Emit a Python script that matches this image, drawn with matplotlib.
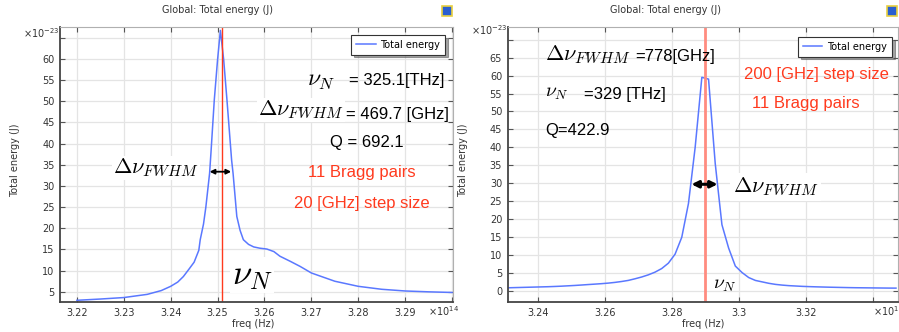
import matplotlib
matplotlib.use("Agg")
import matplotlib.pyplot as plt
from matplotlib.patches import Rectangle

plt.rcParams["font.family"] = ["DejaVu Sans"]
plt.rcParams["mathtext.fontset"] = "cm"

# frequency in units of 1e14 Hz, energy in units of 1e-23 J
# 20 GHz sweep
freq_a = [3.220, 3.225, 3.230, 3.235, 3.238, 3.240, 3.2415, 3.2427, 3.244, 3.245,
          3.246, 3.2463, 3.247, 3.2475, 3.248, 3.2483, 3.2486, 3.2493, 3.2500, 3.2506,
          3.2513, 3.2520, 3.2530, 3.2533, 3.2541, 3.2548, 3.2555, 3.2566, 3.2577, 3.259,
          3.2605, 3.262, 3.2633, 3.2655, 3.2676, 3.270, 3.275, 3.280, 3.285, 3.290,
          3.295, 3.300]
energy_a = [3.0, 3.3, 3.65, 4.4, 5.3, 6.3, 7.3, 8.6, 10.5, 12.0,
            14.8, 17.3, 21.0, 25.0, 30.0, 33.0, 38.0, 50.3, 59.8, 66.7,
            59.8, 50.3, 36.0, 33.0, 22.8, 19.5, 17.3, 16.2, 15.6, 15.3,
            15.1, 14.5, 13.4, 12.2, 11.0, 9.45, 7.5, 6.3, 5.6, 5.2,
            5.0, 4.85]

# 200 GHz sweep
freq_b = [3.231, 3.233, 3.235, 3.237, 3.239, 3.241, 3.243, 3.245, 3.247, 3.249,
          3.251, 3.253, 3.255, 3.257, 3.259, 3.261, 3.263, 3.265, 3.267, 3.269,
          3.271, 3.273, 3.275, 3.277, 3.279, 3.281, 3.283, 3.285, 3.287, 3.289,
          3.291, 3.293, 3.295, 3.297, 3.299, 3.301, 3.303, 3.305, 3.307, 3.309,
          3.311, 3.313, 3.315, 3.317, 3.319, 3.321, 3.323, 3.325, 3.327, 3.329,
          3.331, 3.333, 3.335, 3.337, 3.339, 3.341, 3.343, 3.345, 3.347]
energy_b = [0.95, 1.00, 1.05, 1.10, 1.15, 1.20, 1.25, 1.32, 1.40, 1.50,
            1.60, 1.72, 1.85, 1.97, 2.10, 2.25, 2.45, 2.70, 3.00, 3.45,
            3.95, 4.55, 5.30, 6.30, 7.80, 10.3, 15.0, 24.4, 40.0, 59.5,
            59.0, 35.5, 18.5, 12.0, 7.0, 5.2, 3.8, 3.0, 2.6, 2.2,
            1.9, 1.7, 1.55, 1.45, 1.35, 1.28, 1.22, 1.17, 1.12, 1.08,
            1.04, 1.00, 0.97, 0.95, 0.93, 0.91, 0.89, 0.87, 0.86]

# resonance values written on each panel
nu_a, fwhm_a, q_a = 3.251, 469.7, 692.1
nu_b, fwhm_b, q_b = 3.29, 778, 422.9
half_a = (3.2483, 3.2529)
half_b = (3.2859, 3.2937)

xticks_a = [3.22, 3.23, 3.24, 3.25, 3.26, 3.27, 3.28, 3.29]
yticks_a = [5, 10, 15, 20, 25, 30, 35, 40, 45, 50, 55, 60]
xticks_b = [3.24, 3.26, 3.28, 3.30, 3.32]
yticks_b = [0, 5, 10, 15, 20, 25, 30, 35, 40, 45, 50, 55, 60, 65]

W, H = 899, 332
BLUE = "#5a78ff"
RED = "#ff3a1e"
fig = plt.figure(figsize=(W / 100, H / 100), dpi=100)


def px_axes(left, top, right, bottom):
    return fig.add_axes([left / W, 1 - bottom / H, (right - left) / W, (bottom - top) / H])


def ptext(x, y, s, **kw):
    kw.setdefault("va", "center")
    return fig.text(x / W, 1 - y / H, s, **kw)


def comsol_axes(ax, xlim, ylim, xticks, xlabels, yticks, extra_x, extra_y, leg_anchor):
    ax.set_xlim(*xlim)
    ax.set_ylim(*ylim)
    ax.set_xticks(xticks)
    ax.set_xticklabels(xlabels)
    ax.set_yticks(yticks)
    ax.set_yticklabels([str(t) for t in yticks])
    # unlabelled ticks at the far ends
    ax.set_xticks(extra_x, minor=True)
    ax.set_yticks(extra_y, minor=True)
    ax.grid(True, which="both", color="#e4e4e4", lw=0.9)
    ax.set_axisbelow(True)
    ax.tick_params(which="both", direction="in", length=3.5, width=0.8, color="#555555",
                   labelsize=7, labelcolor="#333333", top=True, right=True, pad=4)
    for side in ("left", "bottom"):
        ax.spines[side].set_color("#444444")
        ax.spines[side].set_linewidth(1.3)
    for side in ("top", "right"):
        ax.spines[side].set_color("#b0b0b0")
        ax.spines[side].set_linewidth(0.8)
    leg = ax.legend(loc="upper right", bbox_to_anchor=leg_anchor, fontsize=7,
                    frameon=True, fancybox=False, shadow=True, handlelength=2.0,
                    borderpad=0.5, handletextpad=0.5, borderaxespad=0)
    leg.get_frame().set_edgecolor("#333333")
    leg.get_frame().set_linewidth(0.8)


# 20 GHz step panel
ax1 = px_axes(60, 27, 453, 302)
ax1.plot(freq_a, energy_a, color=BLUE, lw=1.1, label="Total energy")
ax1.axvline(nu_a, color=RED, lw=1.0)
comsol_axes(ax1, (3.2164, 3.3002), (2.6, 67.5),
            xticks_a, [f"{t:.2f}" for t in xticks_a], yticks_a,
            [3.30], [65], (0.98, 0.971))
ax1.annotate("", xy=(half_a[0], max(energy_a) / 2), xytext=(half_a[1], max(energy_a) / 2),
             arrowprops=dict(arrowstyle="<|-|>", color="black", lw=1.3,
                             mutation_scale=7, shrinkA=0, shrinkB=0))

# 200 GHz step panel
ax2 = px_axes(507.7, 27, 898, 302)
ax2.plot(freq_b, energy_b, color=BLUE, lw=1.1, label="Total energy")
ax2.axvline(nu_b, color="#ff8c80", lw=2.0)
comsol_axes(ax2, (3.2310, 3.3476), (-3.0, 73.5),
            xticks_b, [f"{t:g}" for t in xticks_b], yticks_b,
            [3.34], [70], (0.984, 0.964))
ax2.annotate("", xy=(half_b[0], max(energy_b) / 2), xytext=(half_b[1], max(energy_b) / 2),
             arrowprops=dict(arrowstyle="<|-|>", color="black", lw=2.2,
                             mutation_scale=10, shrinkA=0, shrinkB=0))

# titles, axis labels and multipliers
for xc, xr in ((217.5, 447), (666, 892)):
    ptext(xc, 10, "Global: Total energy (J)", fontsize=7, color="#333333", ha="center")
    fig.patches.append(Rectangle(((xr - 5) / W, 1 - 16 / H), 10 / W, 10 / H,
                                 transform=fig.transFigure, facecolor="#2a5fd0",
                                 edgecolor="#e8d040", lw=1.2))
ptext(15, 160, "Total energy (J)", fontsize=7, color="#333333", ha="center", rotation=90)
ptext(463, 160, "Total energy (J)", fontsize=7, color="#333333", ha="center", rotation=90)
ptext(253, 324, "freq (Hz)", fontsize=7, color="#333333", ha="center")
ptext(703, 324, "freq (Hz)", fontsize=7, color="#333333", ha="center")
ptext(23, 33, r"$\mathregular{\times10^{-23}}$", fontsize=7, color="#333333", ha="left")
ptext(471, 30, r"$\mathregular{\times10^{-23}}$", fontsize=7, color="#333333", ha="left")
ptext(428, 311, r"$\mathregular{\times10^{14}}$", fontsize=7, color="#333333", ha="left")
ptext(873, 311, r"$\mathregular{\times10^{14}}$", fontsize=7, color="#333333", ha="left")

# annotations, 20 GHz panel
TXT = dict(family=["Liberation Sans", "DejaVu Sans"], color="black")
ptext(321, 80, r"$\nu_N$", fontsize=17, ha="center")
ptext(349, 80, f"= {nu_a * 100:.1f}[THz]", fontsize=12, ha="left", **TXT)
ptext(258, 110, r"$\Delta\nu_{FWHM}$", fontsize=16, ha="left",
      bbox=dict(facecolor="white", edgecolor="none", pad=1))
ptext(346, 114, f"= {fwhm_a} [GHz]", fontsize=12, ha="left", **TXT)
ptext(367, 143, f"Q = {q_a}", fontsize=12, ha="center", **TXT)
ptext(362, 173, "11 Bragg pairs", fontsize=12, ha="center",
      family=["Liberation Sans", "DejaVu Sans"], color=RED)
ptext(362, 203, "20 [GHz] step size", fontsize=12, ha="center",
      family=["Liberation Sans", "DejaVu Sans"], color=RED)
ptext(113, 168, r"$\Delta\nu_{FWHM}$", fontsize=16, ha="left",
      bbox=dict(facecolor="white", edgecolor="none", pad=1))
ptext(252, 275, r"$\nu_N$", fontsize=25, ha="center",
      bbox=dict(facecolor="white", edgecolor="none", pad=1))

# annotations, 200 GHz panel
ptext(545, 55, r"$\Delta\nu_{FWHM}$", fontsize=16, ha="left")
ptext(635, 56, f"={fwhm_b}[GHz]", fontsize=12, ha="left", **TXT)
ptext(545, 93, r"$\nu_N$", fontsize=14, ha="left")
ptext(584, 95, f"={nu_b * 100:.0f} [THz]", fontsize=12, ha="left", **TXT)
ptext(545, 131, f"Q={q_b}", fontsize=12, ha="left", **TXT)
ptext(816, 75, "200 [GHz] step size", fontsize=12, ha="center",
      family=["Liberation Sans", "DejaVu Sans"], color=RED)
ptext(806, 103, "11 Bragg pairs", fontsize=12, ha="center",
      family=["Liberation Sans", "DejaVu Sans"], color=RED)
ptext(733, 187, r"$\Delta\nu_{FWHM}$", fontsize=16, ha="left",
      bbox=dict(facecolor="white", edgecolor="none", pad=2))
ptext(713, 284, r"$\nu_N$", fontsize=14, ha="left")

fig.savefig("out.png", dpi=100)
